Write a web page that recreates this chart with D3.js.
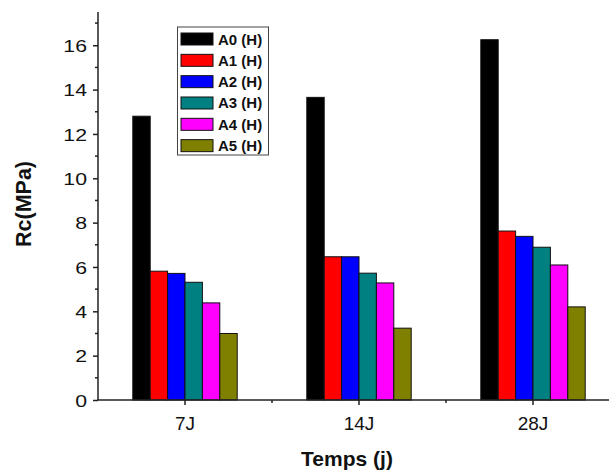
<!DOCTYPE html>
<html>
<head>
<meta charset="utf-8">
<script src="https://cdn.jsdelivr.net/npm/d3@7"></script>
<style>
  body { margin: 0; background: #fff; }
  svg { display: block; font-family: "Liberation Sans", Arial, sans-serif; }
</style>
</head>
<body>
<div id="chart"></div>
<script>
// data
const periods = ["7J", "14J", "28J"];
const seriesNames = ["A0 (H)", "A1 (H)", "A2 (H)", "A3 (H)", "A4 (H)", "A5 (H)"];
const seriesColors = ["#000000", "#ff0000", "#0000ff", "#008080", "#ff00ff", "#808000"];
const A0 = [12.8, 13.65, 16.25];
const A1 = [5.81, 6.46, 7.62];
const A2 = [5.71, 6.46, 7.38];
const A3 = [5.31, 5.72, 6.89];
const A4 = [4.38, 5.28, 6.09];
const A5 = [3.0, 3.24, 4.2];
const seriesValues = [A0, A1, A2, A3, A4, A5];
const yMajorTicks = [0, 2, 4, 6, 8, 10, 12, 14, 16];

const width = 609, height = 471;
const margin = { top: 12, right: -11, bottom: 71, left: 98 };
const axisColor = "#222";
const font = "'Liberation Sans', Arial, sans-serif";

const svg = d3.select("#chart")
  .append("svg")
  .attr("width", width)
  .attr("height", height);

const x = d3.scaleBand()
  .domain(periods)
  .range([margin.left, width - margin.right])
  .paddingInner(0)
  .paddingOuter(0);

const groupW = x.bandwidth() * 0.6;
const xs = d3.scaleBand()
  .domain(seriesNames)
  .range([-groupW / 2, groupW / 2]);

const y = d3.scaleLinear()
  .domain([0, 17.5])
  .range([height - margin.bottom, margin.top]);

// bars
const rows = [];
periods.forEach((p, i) => {
  seriesNames.forEach((s, j) => {
    rows.push({ period: p, series: s, color: seriesColors[j], value: seriesValues[j][i] });
  });
});

svg.append("g")
  .selectAll("rect")
  .data(rows)
  .join("rect")
  .attr("x", d => x(d.period) + x.bandwidth() / 2 + xs(d.series))
  .attr("y", d => y(d.value))
  .attr("width", xs.bandwidth())
  .attr("height", d => y(0) - y(d.value))
  .attr("fill", d => d.color)
  .attr("stroke", "#111")
  .attr("stroke-width", 1);

// y axis
const yAxis = svg.append("g")
  .attr("transform", `translate(${margin.left},0)`)
  .call(d3.axisLeft(y).tickValues(yMajorTicks).tickSize(5).tickSizeOuter(0));
yAxis.select(".domain").remove();
yAxis.selectAll(".tick line").attr("stroke", axisColor).attr("stroke-width", 1.5);
// labels in the original are drawn wider than normal
yAxis.selectAll(".tick text")
  .attr("font-size", 17)
  .attr("fill", "#111")
  .attr("font-family", font)
  .attr("x", -11 / 1.25)
  .attr("dy", "0.36em")
  .attr("transform", "scale(1.25,1)");

// y minor ticks
svg.append("g")
  .selectAll("line")
  .data(d3.range(1, 18, 2))
  .join("line")
  .attr("x1", margin.left - 3)
  .attr("x2", margin.left)
  .attr("y1", d => y(d))
  .attr("y2", d => y(d))
  .attr("stroke", axisColor)
  .attr("stroke-width", 1.5);

svg.append("line")
  .attr("x1", margin.left).attr("x2", margin.left)
  .attr("y1", y(17.5)).attr("y2", y(0))
  .attr("stroke", axisColor)
  .attr("stroke-width", 1.5);

// x axis
const xAxis = svg.append("g")
  .attr("transform", `translate(0,${y(0)})`)
  .call(d3.axisBottom(x).tickSize(5).tickSizeOuter(0));
xAxis.select(".domain").remove();
xAxis.selectAll(".tick line").attr("stroke", axisColor).attr("stroke-width", 1.5);
xAxis.selectAll(".tick text")
  .attr("font-size", 19)
  .attr("fill", "#111")
  .attr("font-family", font)
  .attr("y", 29.5)
  .attr("dy", null);

// x minor ticks between periods
svg.append("g")
  .selectAll("line")
  .data(periods.slice(1))
  .join("line")
  .attr("x1", d => x(d))
  .attr("x2", d => x(d))
  .attr("y1", y(0))
  .attr("y2", y(0) + 3)
  .attr("stroke", axisColor)
  .attr("stroke-width", 1.5);

svg.append("line")
  .attr("x1", margin.left - 0.75).attr("x2", width + 20)
  .attr("y1", y(0)).attr("y2", y(0))
  .attr("stroke", axisColor)
  .attr("stroke-width", 1.5);

// axis titles
svg.append("text")
  .attr("transform", `translate(31,204) rotate(-90)`)
  .attr("text-anchor", "middle")
  .attr("font-size", 21.5)
  .attr("font-weight", "bold")
  .attr("fill", "#111")
  .text("Rc(MPa)");

svg.append("text")
  .attr("x", 347)
  .attr("y", 465.5)
  .attr("text-anchor", "middle")
  .attr("font-size", 21)
  .attr("font-weight", "bold")
  .attr("fill", "#111")
  .text("Temps (j)");

// legend
const legend = svg.append("g").attr("transform", "translate(177.5,27)");
legend.append("rect")
  .attr("width", 91)
  .attr("height", 128)
  .attr("fill", "#fff")
  .attr("stroke", "#444")
  .attr("stroke-width", 1);

const item = legend.selectAll("g.item")
  .data(seriesNames)
  .join("g")
  .attr("class", "item")
  .attr("transform", (d, i) => `translate(3.5,${6 + i * 21.33})`);

item.append("rect")
  .attr("width", 32)
  .attr("height", 12)
  .attr("fill", (d, i) => seriesColors[i])
  .attr("stroke", "#111")
  .attr("stroke-width", 1);

item.append("text")
  .attr("x", 37)
  .attr("y", 11.5)
  .attr("font-size", 15)
  .attr("font-weight", "bold")
  .attr("fill", "#111")
  .text(d => d);
</script>
</body>
</html>
